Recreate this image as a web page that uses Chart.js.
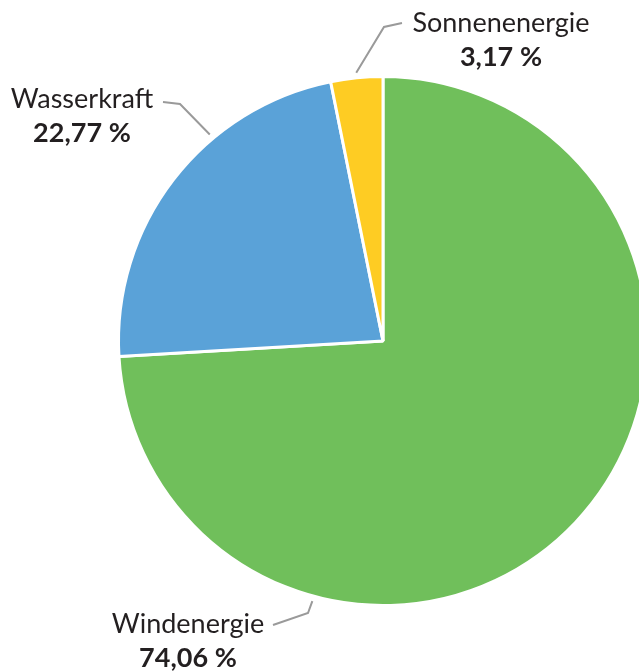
<!DOCTYPE html>
<html>
<head>
<meta charset="utf-8">
<script src="https://cdn.jsdelivr.net/npm/chart.js@4.4.1/dist/chart.umd.min.js"></script>
<style>
  html, body { margin: 0; padding: 0; background: #fff; overflow: hidden; }
  #wrap { width: 639px; height: 671px; overflow: hidden; position: relative; }
  #chart { position: absolute; left: 0; top: 0; }
</style>
</head>
<body>
<div id="wrap"><canvas id="chart" width="766" height="682"></canvas></div>
<script>
const categories = ["Windenergie", "Wasserkraft", "Sonnenenergie"];
const shares = [74.06, 22.77, 3.17];
const shareLabels = ["74,06\u202F%", "22,77\u202F%", "3,17\u202F%"];
const sliceColors = ["#70bf5b", "#5aa2d8", "#fecc23"];

// where each callout sits: angle on the rim (deg clockwise from top), elbow and text offsets from centre
const callouts = [
  { angle: 195.2, elbow: [-75, 272], end: [-110, 284], text: [-195, 292] },
  { angle: 320, elbow: [-203, -237], end: [-220, -239], text: [-301, -233] },
  { angle: 354.3, elbow: [1, -314], end: [19, -318], text: [118, -309] }
];

const calloutPlugin = {
  id: "callouts",
  afterDraw(chart) {
    const ctx = chart.ctx;
    const arc = chart.getDatasetMeta(0).data[0];
    const cx = arc.x, cy = arc.y, r = arc.outerRadius;
    ctx.save();
    callouts.forEach((c, i) => {
      const a = c.angle * Math.PI / 180;
      const sx = cx + (r + 5) * Math.sin(a);
      const sy = cy - (r + 5) * Math.cos(a);
      ctx.strokeStyle = "#9a9a9a";
      ctx.lineWidth = 2;
      ctx.beginPath();
      ctx.moveTo(sx, sy);
      ctx.lineTo(cx + c.elbow[0], cy + c.elbow[1]);
      ctx.lineTo(cx + c.end[0], cy + c.end[1]);
      ctx.stroke();

      ctx.textAlign = "center";
      ctx.textBaseline = "alphabetic";
      ctx.fillStyle = "#231f20";
      ctx.font = "27px Lato";
      ctx.fillText(categories[i], cx + c.text[0], cy + c.text[1]);
      ctx.font = "bold 27px Lato";
      ctx.fillText(shareLabels[i], cx + c.text[0], cy + c.text[1] + 34);
    });
    ctx.restore();
  }
};

new Chart(document.getElementById("chart"), {
  type: "pie",
  data: {
    labels: categories,
    datasets: [{
      data: shares,
      backgroundColor: sliceColors,
      borderColor: "#ffffff",
      borderWidth: 3
    }]
  },
  options: {
    responsive: false,
    animation: false,
    layout: { padding: { top: 75, bottom: 75 } },
    plugins: {
      legend: { display: false },
      tooltip: { enabled: false }
    }
  },
  plugins: [calloutPlugin]
});
</script>
</body>
</html>
